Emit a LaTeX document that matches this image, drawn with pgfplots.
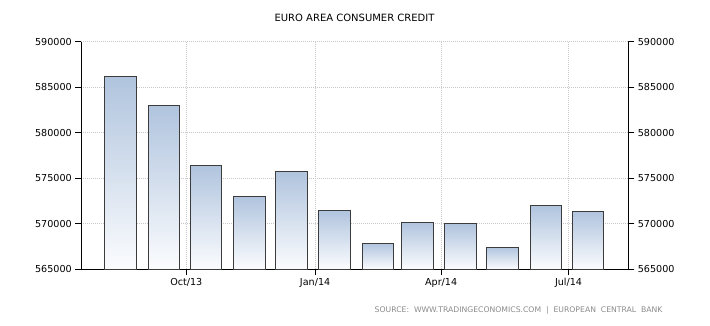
\documentclass[border=0pt]{standalone}
\usepackage{fontspec}
\setmainfont{DejaVu Sans}
\usepackage{pgfplots}
\pgfplotsset{compat=1.18}
\definecolor{barTop}{HTML}{B0C4DE}
\definecolor{barBot}{HTML}{FBFCFE}
\definecolor{barEdge}{HTML}{3C3C3C}
\definecolor{gridc}{HTML}{C8C8C8}
\definecolor{srcc}{HTML}{8A8A8A}
\pgfplotsset{
  common/.style={
    at={(81.3pt,56pt)}, anchor=south west, scale only axis,
    width=547pt, height=227.3pt,
    xmin=-75, xmax=315.7, ymin=0, ymax=25000,
    scaled y ticks=false,
    ytick={0,5000,10000,15000,20000,25000},
    yticklabels={565000,570000,575000,580000,585000,590000},
    tick align=outside, major tick length=6pt,
    tick style={black, line width=0.8pt},
    axis line style={black, line width=0.8pt, -},
    ticklabel style={font=\fontsize{9.6}{10}\selectfont},
  },
  onebar/.style={ybar, bar width=22.5, draw=barEdge, line width=1pt,
    top color=barTop, bottom color=barBot,
    y filter/.expression={y-565000}},
}
\begin{document}
\begin{tikzpicture}[x=1pt,y=1pt]
\useasboundingbox (0,0) rectangle (710,325);
\begin{axis}[common,
  axis x line*=bottom, axis y line*=left,
  xtick={0,92,182,273},
  xticklabels={Oct/13,Jan/14,Apr/14,Jul/14},
  xmajorgrids, ymajorgrids,
  grid style={dash pattern=on 0.9pt off 1.1pt, gridc, line width=0.6pt},
]
% values are the actual levels; the filter puts the bar baseline at 565000
\addplot[onebar] coordinates {(-47,586200)};
\addplot[onebar] coordinates {(-16,583000)};
\addplot[onebar] coordinates {(14,576400)};
\addplot[onebar] coordinates {(45,573000)};
\addplot[onebar] coordinates {(75,575700)};
\addplot[onebar] coordinates {(106,571450)};
\addplot[onebar] coordinates {(137,567850)};
\addplot[onebar] coordinates {(165,570150)};
\addplot[onebar] coordinates {(196,569950)};
\addplot[onebar] coordinates {(226,567400)};
\addplot[onebar] coordinates {(257,572000)};
\addplot[onebar] coordinates {(287,571350)};
\end{axis}
\begin{axis}[common,
  axis x line=none, axis y line*=right,
  xtick=\empty,
]
\end{axis}
\node[font=\fontsize{10}{12}\selectfont] at (354.5,307) {EURO AREA CONSUMER CREDIT};
\node[anchor=east, font=\fontsize{7.7}{9}\selectfont, text=srcc] at (666,15)
  {SOURCE:\ \ WWW.TRADINGECONOMICS.COM\ \ |\ \ EUROPEAN\ \ CENTRAL\ \ BANK};
\end{tikzpicture}
\end{document}
